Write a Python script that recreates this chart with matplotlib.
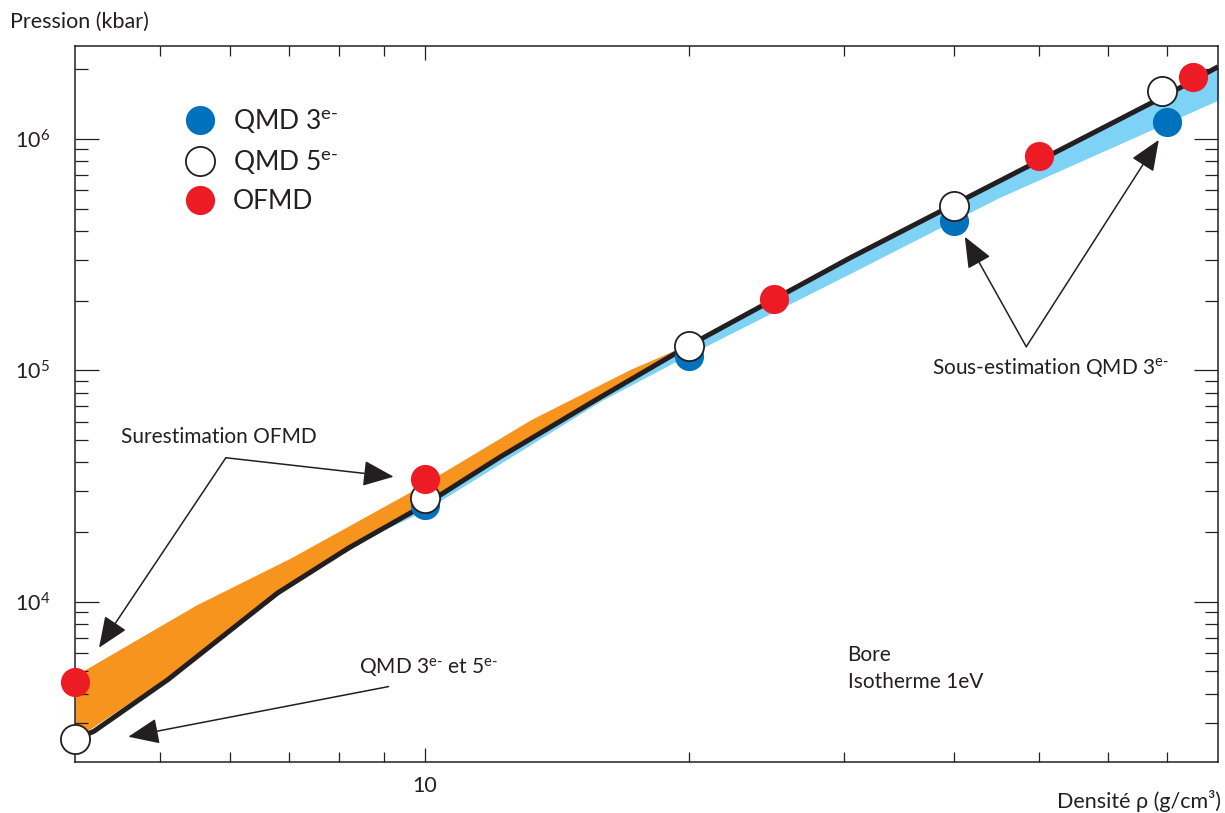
import matplotlib
matplotlib.use("Agg")
import matplotlib.pyplot as plt
from matplotlib.ticker import NullFormatter

plt.rcParams['font.family'] = ['Lato', 'DejaVu Sans']
plt.rcParams['mathtext.fontset'] = 'custom'
plt.rcParams['mathtext.rm'] = 'Lato'
plt.rcParams['mathtext.it'] = 'Lato:italic'
plt.rcParams['mathtext.bf'] = 'Lato:bold'
plt.rcParams['mathtext.default'] = 'regular'

INK = '#231f20'
BLUE = '#0071bc'
RED = '#ed1c24'
ORANGE = '#f7941d'
SKY = '#7dd2f5'

# reference isotherm (black curve)
rho_ref = [4, 4.2, 5.1, 6.8, 8.2, 10, 12.2, 15.9, 20, 30.5, 40, 53, 70, 80]
p_ref = [2.55e3, 2.75e3, 4.6e3, 1.09e4, 1.71e4, 2.62e4, 4.23e4, 7.7e4,
         1.28e5, 3.06e5, 5.2e5, 9.0e5, 1.55e6, 2.05e6]

# orange band: OFMD overestimate
rho_ofmd_band = [4, 5.5, 7.05, 9.64, 13.2, 17.1, 20]
p_ofmd_hi = [4.8e3, 9.7e3, 1.55e4, 2.99e4, 6.11e4, 1.005e5, 1.3e5]
p_ofmd_lo = [2.55e3, 5.73e3, 1.184e4, 2.42e4, 5.06e4, 9.1e4, 1.28e5]

# light blue band: QMD 3e- underestimate
rho_qmd_band = [9, 10, 15.9, 20, 30.5, 45, 80]
p_qmd_hi = [2.1e4, 2.62e4, 7.7e4, 1.28e5, 3.06e5, 6.52e5, 2.05e6]
p_qmd_lo = [2.05e4, 2.48e4, 7.4e4, 1.17e5, 2.62e5, 5.56e5, 1.47e6]

# simulation points
rho_qmd3 = [10, 20, 40, 70]
p_qmd3 = [2.62e4, 1.15e5, 4.4e5, 1.18e6]
rho_qmd5 = [4, 10, 20, 40, 69]
p_qmd5 = [2.56e3, 2.81e4, 1.28e5, 5.14e5, 1.61e6]
rho_ofmd = [4, 10, 25, 50, 75]
p_ofmd = [4.5e3, 3.4e4, 2.04e5, 8.45e5, 1.85e6]

fig = plt.figure(figsize=(12.25, 8.13), dpi=100)
ax = fig.add_axes([75 / 1225, 1 - 762 / 813, 1143 / 1225, 716 / 813])
ax.set_xscale('log')
ax.set_yscale('log')
ax.set_xlim(4, 80)
ax.set_ylim(2.03e3, 2.52e6)

ax.fill_between(rho_qmd_band, p_qmd_lo, p_qmd_hi, color=SKY, lw=0, zorder=1)
ax.fill_between(rho_ofmd_band, p_ofmd_lo, p_ofmd_hi, color=ORANGE, lw=0, zorder=1)
ax.plot(rho_ref, p_ref, color=INK, lw=3.6, solid_capstyle='butt', zorder=2)

ms = 21
h3, = ax.plot(rho_qmd3, p_qmd3, 'o', ms=ms, mfc=BLUE, mec='none',
              clip_on=False, zorder=5)
h5, = ax.plot(rho_qmd5, p_qmd5, 'o', ms=ms, mfc='white', mec=INK, mew=1.3,
              clip_on=False, zorder=6)
hr, = ax.plot(rho_ofmd, p_ofmd, 'o', ms=ms, mfc=RED, mec='none',
              clip_on=False, zorder=7)

leg = ax.legend([h3, h5, hr],
                [r'QMD 3$^{\text{e-}}$', r'QMD 5$^{\text{e-}}$', 'OFMD'],
                loc='upper left', bbox_to_anchor=(0.098, 0.915),
                frameon=False, fontsize=19, handlelength=1.0,
                handletextpad=0.75, labelspacing=0.5, borderpad=0,
                borderaxespad=0)
for t in leg.get_texts():
    t.set_color(INK)

# ticks
ax.set_xticks([10])
ax.set_xticklabels(['10'])
ax.set_xticks([5, 6, 7, 8, 9, 20, 30, 40, 50, 60, 70], minor=True)
ax.xaxis.set_minor_formatter(NullFormatter())
ax.set_yticks([1e4, 1e5, 1e6])
ax.set_yticklabels([r'10$^{4}$', r'10$^{5}$', r'10$^{6}$'])
minor_y = [k * 10 ** e for e in (3, 4, 5) for k in range(2, 10) if k * 10 ** e > 2.1e3]
minor_y.append(2e6)
ax.set_yticks(minor_y, minor=True)
ax.yaxis.set_minor_formatter(NullFormatter())

ax.tick_params(which='both', direction='in', top=True, right=True,
               color=INK, width=0.9, labelcolor=INK, labelsize=15.5)
ax.tick_params(axis='x', which='major', length=10, pad=10)
ax.tick_params(axis='x', which='minor', length=7)
ax.tick_params(axis='y', which='major', length=17, pad=18)
ax.tick_params(axis='y', which='minor', length=9.5)
for s in ax.spines.values():
    s.set_linewidth(1.1)
    s.set_color(INK)

fig.text(10 / 1225, 1 - 22 / 813, 'Pression (kbar)', fontsize=15.5,
         color=INK, ha='left', va='center')
fig.text(1221 / 1225, 1 - 801 / 813, 'Densité ρ (g/cm³)', fontsize=15.5,
         color=INK, ha='right', va='center')

arrow = dict(arrowstyle='-|>,head_length=0.6,head_width=0.25', color=INK,
             lw=1.1, mutation_scale=32, shrinkA=0, shrinkB=0)

# Surestimation OFMD
ax.text(4.51, 5.16e4, 'Surestimation OFMD', fontsize=15, color=INK,
        ha='left', va='center')
ax.annotate('', xy=(4.26, 6.33e3), xytext=(5.94, 4.19e4), arrowprops=arrow)
ax.annotate('', xy=(9.22, 3.47e4), xytext=(5.94, 4.19e4), arrowprops=arrow)

# QMD 3e- et 5e-
ax.text(8.41, 5.19e3, r'QMD 3$^{\text{e-}}$ et 5$^{\text{e-}}$', fontsize=15,
        color=INK, ha='left', va='center')
ax.annotate('', xy=(4.6, 2.61e3), xytext=(9.1, 4.3e3), arrowprops=arrow)

# Sous-estimation QMD 3e-
ax.text(37.8, 1.026e5, r'Sous-estimation QMD 3$^{\text{e-}}$', fontsize=15,
        color=INK, ha='left', va='center')
ax.annotate('', xy=(41.2, 3.776e5), xytext=(48.4, 1.264e5), arrowprops=arrow)
ax.annotate('', xy=(68.5, 9.9e5), xytext=(48.4, 1.264e5), arrowprops=arrow)

ax.text(30.3, 5.9e3, 'Bore', fontsize=15, color=INK, ha='left', va='center')
ax.text(30.3, 4.51e3, 'Isotherme 1eV', fontsize=15, color=INK,
        ha='left', va='center')

fig.savefig('out.png', dpi=100)
